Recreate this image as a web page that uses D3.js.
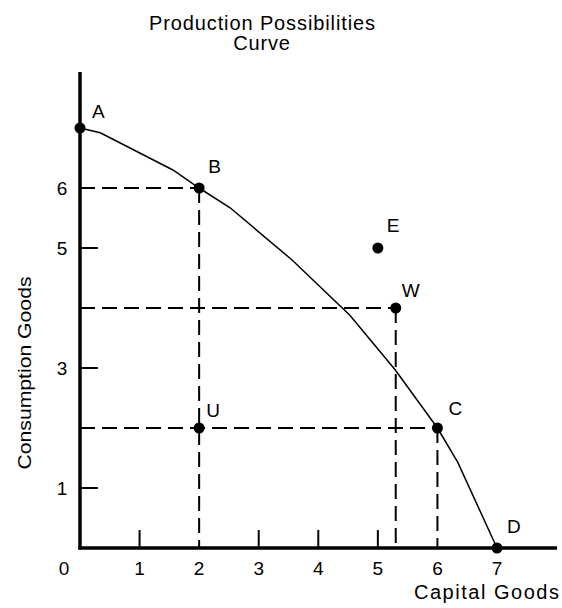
<!DOCTYPE html>
<html>
<head>
<meta charset="utf-8">
<script src="https://cdn.jsdelivr.net/npm/d3@7"></script>
<style>
    body { margin: 0; background: #fff; }
    svg text { font-family: "Liberation Sans", Arial, sans-serif; fill: #000; }
</style>
</head>
<body>
<div id="chart"></div>
<script>
// Production possibilities frontier (capital goods, consumption goods)
let curvePoints = [
    [0, 7], [0.34, 6.92], [1.56, 6.3], [2, 6], [2.52, 5.67], [3.56, 4.8],
    [4.53, 3.88], [5.29, 2.97], [6, 2], [6.34, 1.43], [7, 0]
];

// Labelled points
let pointNames = ["A", "B", "E", "W", "U", "C", "D"];
let pointX = [0, 2, 5, 5.3, 2, 6, 7];
let pointY = [7, 6, 5, 4, 2, 2, 0];

// Dashed guide lines go to these points
let guideNames = ["B", "W", "C"];

let xTicks = [1, 3, 4, 5];
let yTicks = [1, 3, 5];
let xTickLabels = [0, 1, 2, 3, 4, 5, 6, 7];
let yTickLabels = [1, 3, 5, 6];

// label nudges in pixels (layout only)
let labelNudge = {A: [12, -10], B: [9, -15], E: [9, -16], W: [6, -11], U: [7, -11], C: [11, -13], D: [10, -15]};

let width = 562, height = 608;

let svg = d3.select("#chart").append("svg")
    .attr("width", width)
    .attr("height", height);

let xScale = d3.scaleLinear().domain([0, 7]).range([80, 497]);
let yScale = d3.scaleLinear().domain([0, 7]).range([548, 128]);

let points = pointNames.map((n, i) => ({name: n, x: pointX[i], y: pointY[i]}));

//Title
svg.append("text").attr("x", 262).attr("y", 30)
    .attr("text-anchor", "middle").attr("font-size", 20)
    .attr("textLength", 226).attr("lengthAdjust", "spacing")
    .text("Production  Possibilities");
svg.append("text").attr("x", 262).attr("y", 50)
    .attr("text-anchor", "middle").attr("font-size", 20)
    .attr("letter-spacing", 0.8)
    .text("Curve");

//Dashed guides
let guides = points.filter(p => guideNames.includes(p.name));
guides.forEach(p => {
    svg.append("line")
        .attr("x1", xScale(0)).attr("x2", xScale(p.x))
        .attr("y1", yScale(p.y)).attr("y2", yScale(p.y))
        .attr("stroke", "#000").attr("stroke-width", 2)
        .attr("stroke-dasharray", "15,7");
    svg.append("line")
        .attr("x1", xScale(p.x)).attr("x2", xScale(p.x))
        .attr("y1", yScale(p.y)).attr("y2", yScale(0))
        .attr("stroke", "#000").attr("stroke-width", 2)
        .attr("stroke-dasharray", "15,7");
});

//Ticks
svg.selectAll(".xtick").data(xTicks).enter().append("line")
    .attr("x1", d => xScale(d)).attr("x2", d => xScale(d))
    .attr("y1", yScale(0)).attr("y2", yScale(0) - 18)
    .attr("stroke", "#000").attr("stroke-width", 2);

svg.selectAll(".ytick").data(yTicks).enter().append("line")
    .attr("x1", xScale(0)).attr("x2", xScale(0) + 18)
    .attr("y1", d => yScale(d)).attr("y2", d => yScale(d))
    .attr("stroke", "#000").attr("stroke-width", 2);

//Axes
svg.append("line")
    .attr("x1", xScale(0)).attr("x2", xScale(0))
    .attr("y1", 72).attr("y2", yScale(0) + 1.5)
    .attr("stroke", "#000").attr("stroke-width", 3.5);
svg.append("line")
    .attr("x1", xScale(0) - 1.5).attr("x2", 557)
    .attr("y1", yScale(0)).attr("y2", yScale(0))
    .attr("stroke", "#000").attr("stroke-width", 3.5);

//Tick labels
svg.selectAll(".xlab").data(xTickLabels).enter().append("text")
    .attr("x", d => d == 0 ? xScale(0) - 16 : xScale(d))
    .attr("y", 575)
    .attr("text-anchor", "middle").attr("font-size", 19)
    .text(d => d);

svg.selectAll(".ylab").data(yTickLabels).enter().append("text")
    .attr("x", 62)
    .attr("y", d => yScale(d) + 7)
    .attr("text-anchor", "middle").attr("font-size", 19)
    .text(d => d);

//Axis titles
svg.append("text").attr("x", 559).attr("y", 599)
    .attr("text-anchor", "end").attr("font-size", 20)
    .attr("textLength", 145).attr("lengthAdjust", "spacing")
    .text("Capital Goods");

svg.append("text")
    .attr("transform", "translate(31,373) rotate(-90)")
    .attr("text-anchor", "middle").attr("font-size", 19)
    .attr("textLength", 193).attr("lengthAdjust", "spacingAndGlyphs")
    .text("Consumption Goods");

//Curve
let lineGraph = d3.line()
    .x(d => xScale(d[0]))
    .y(d => yScale(d[1]));

svg.append("path")
    .datum(curvePoints)
    .attr("fill", "none")
    .attr("stroke", "#000")
    .attr("stroke-width", 1.5)
    .attr("d", lineGraph);

//Points
svg.selectAll("circle").data(points).enter().append("circle")
    .attr("cx", d => xScale(d.x))
    .attr("cy", d => yScale(d.y))
    .attr("r", 5.5)
    .attr("fill", "#000");

svg.selectAll(".plab").data(points).enter().append("text")
    .attr("x", d => xScale(d.x) + labelNudge[d.name][0])
    .attr("y", d => yScale(d.y) + labelNudge[d.name][1])
    .attr("font-size", 19)
    .text(d => d.name);
</script>
</body>
</html>
